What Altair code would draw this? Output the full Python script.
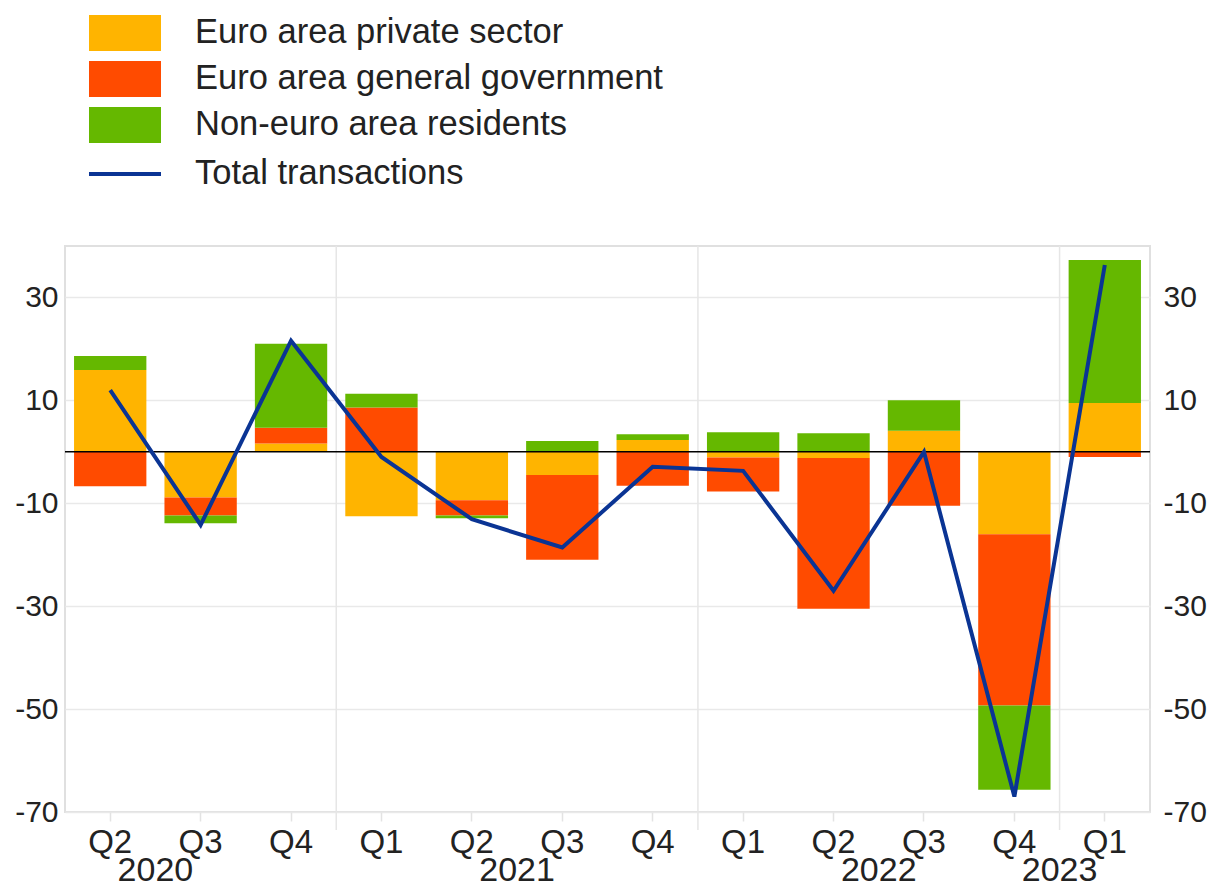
import altair as alt
import pandas as pd

periods = ["2020 Q2", "2020 Q3", "2020 Q4", "2021 Q1", "2021 Q2", "2021 Q3",
           "2021 Q4", "2022 Q1", "2022 Q2", "2022 Q3", "2022 Q4", "2023 Q1"]
private = [15.9, -8.9, 1.6, -12.5, -9.4, -4.5, 2.3, -1.1, -1.2, 4.1, -16.0, 9.5]
government = [-6.7, -3.5, 3.1, 8.6, -3.0, -16.5, -6.6, -6.6, -29.3, -10.5, -33.3, -1.0]
non_euro = [2.7, -1.5, 16.3, 2.7, -0.5, 2.1, 1.1, 3.8, 3.6, 5.9, -16.4, 27.8]
total = [12.0, -14.2, 21.6, -1.0, -13.1, -18.6, -2.9, -3.7, -27.0, 0.0, -67.0, 36.3]

series_names = ["Euro area private sector", "Euro area general government", "Non-euro area residents"]
series_colors = ["#FFB400", "#FF4B00", "#65B800"]
line_name = "Total transactions"
line_color = "#0A3494"

year_labels = ["2020", "2021", "2022", "2023"]
year_anchor = ["2020 Q3", "2021 Q3", "2022 Q3", "2023 Q1"]
year_starts = ["2021 Q1", "2022 Q1", "2023 Q1"]
y_ticks = [-70, -50, -30, -10, 10, 30]

rows = []
for i, p in enumerate(periods):
    for k, (name, vals) in enumerate(zip(series_names, [private, government, non_euro])):
        rows.append({"period": p, "series": name, "value": vals[i], "order": k})
bars_df = pd.DataFrame(rows)
line_df = pd.DataFrame({"period": periods, "total": total, "label": line_name})
years_df = pd.DataFrame({"period": year_anchor, "year": year_labels})
sep_df = pd.DataFrame({"period": year_starts})
zero_df = pd.DataFrame({"z": [0]})

W, H = 1085, 566
FONT = "Liberation Sans"
TXT = "#222222"

xscale = alt.Scale(domain=periods, paddingInner=0, paddingOuter=0)
yscale = alt.Scale(domain=[-70, 40], nice=False, zero=False)

x_axis = alt.Axis(title=None, labelExpr="split(datum.value, ' ')[1]", labelAngle=0,
                  labelFontSize=33, labelFont=FONT, labelColor=TXT,
                  tickColor="#e3e3e3", tickSize=9, tickWidth=1.5,
                  domain=False, grid=False, labelPadding=5)


def xenc(**kw):
    return alt.X("period:N", scale=xscale, sort=periods, axis=x_axis, **kw)


seps = alt.Chart(sep_df).mark_rule(color="#e6e6e6", strokeWidth=1.5, clip=False).encode(
    x=xenc(bandPosition=0),
    y=alt.value(0),
    y2=alt.value(H + 18),
)

bars = alt.Chart(bars_df).mark_bar(width=alt.RelativeBandSize(0.8)).encode(
    x=xenc(),
    y=alt.Y("value:Q", scale=yscale, stack="zero",
            axis=alt.Axis(orient="left", values=y_ticks, title=None, grid=True,
                          gridColor="#e9e9e9", gridWidth=1.5, domain=False, ticks=False,
                          labelExpr="'' + datum.value",
                          labelFontSize=30, labelFont=FONT, labelColor=TXT, labelPadding=7)),
    color=alt.Color("series:N", scale=alt.Scale(domain=series_names, range=series_colors),
                    legend=alt.Legend(title=None, orient="none", legendX=42, legendY=-231,
                                      symbolType="M-2,-1H2V1H-2Z", symbolSize=1296,
                                      symbolStrokeWidth=0, labelFontSize=34.5, labelFont=FONT,
                                      labelColor=TXT, labelOffset=52, rowPadding=10,
                                      padding=0, labelLimit=800)),
    order=alt.Order("order:Q"),
)

zero = alt.Chart(zero_df).mark_rule(color="#000000", strokeWidth=1.5).encode(
    y=alt.Y("z:Q", scale=yscale, axis=None),
)

line = alt.Chart(line_df).mark_line(strokeWidth=4).encode(
    x=xenc(),
    y=alt.Y("total:Q", scale=yscale,
            axis=alt.Axis(orient="right", values=y_ticks, title=None, grid=False,
                          domain=False, ticks=False, labelFontSize=30, labelFont=FONT,
                          labelExpr="'' + datum.value",
                          labelColor=TXT, labelPadding=13)),
    stroke=alt.Stroke("label:N", scale=alt.Scale(domain=[line_name], range=[line_color]),
                      legend=alt.Legend(title=None, orient="none", legendX=40, legendY=-92,
                                        symbolType="M-2,0H2", symbolSize=1296,
                                        symbolStrokeWidth=4, symbolFillColor="transparent",
                                        labelFontSize=34.5, labelFont=FONT, labelColor=TXT,
                                        labelOffset=50, padding=0, labelLimit=800)),
)

years = alt.Chart(years_df).mark_text(fontSize=34, font=FONT, color=TXT, baseline="top").encode(
    x=xenc(bandPosition=0),
    y=alt.value(H + 42),
    text="year:N",
)

chart = alt.layer(seps, bars, zero, line, years).resolve_scale(
    y="shared"
).resolve_axis(
    y="independent"
).properties(
    width=W, height=H,
    autosize=alt.AutoSizeParams(type="none"),
    padding={"left": 65, "top": 246, "right": 66, "bottom": 76},
).configure_view(stroke="#e0e0e0", strokeWidth=2)

chart.save("out.html", embed_options={"renderer": "svg", "actions": False})
